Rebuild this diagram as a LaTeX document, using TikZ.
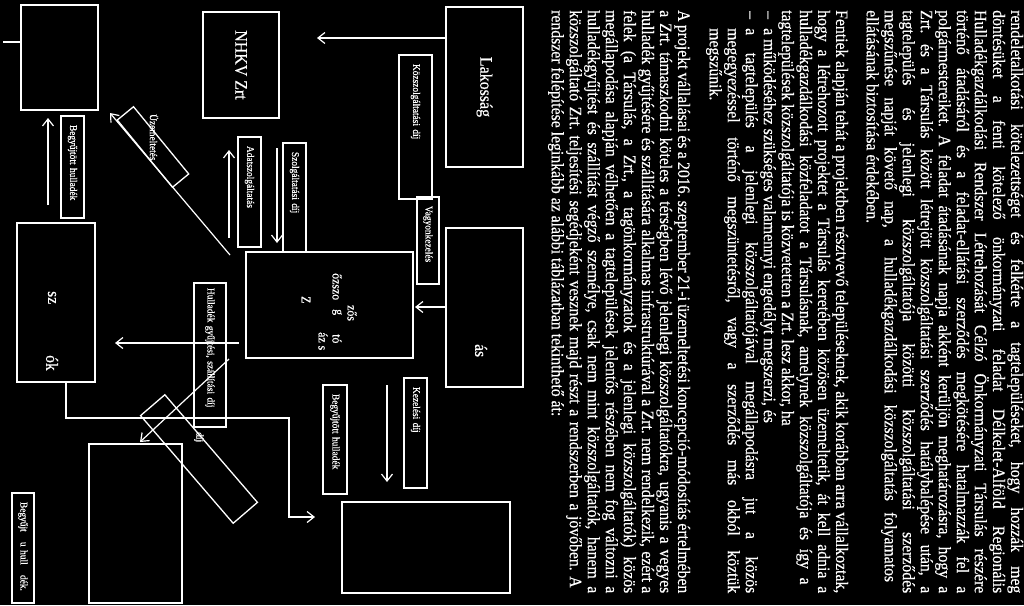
\documentclass[tikz,border=0pt]{standalone}
\usepackage{fontspec}
\setmainfont{Liberation Serif}[FakeStretch=0.91, FakeBold=0.4]
\usepackage{graphicx}
\usepackage{tikz}
\usetikzlibrary{arrows.meta}
\frenchspacing

\begin{document}
\begin{tikzpicture}[
		x=1pt, y=-1pt, white,
		bigbox/.style={draw, line width=2.2pt, inner sep=0pt, font=\fontsize{17.5}{20}\selectfont},
		lblbox/.style={draw, line width=1.6pt, rotate=-90, inner xsep=9pt, inner ysep=0pt, align=left, font=\fontsize{10.3}{12}\selectfont},
		tiltbox/.style={draw, line width=1.3pt, inner sep=0pt},
		arr/.style={line width=1.2pt, -{Straight Barb[length=7pt,width=11pt]}},
		txtline/.style={anchor=west, rotate=-90, inner sep=0pt, font=\fontsize{17.3}{19.5}\selectfont},
		frag/.style={anchor=west, rotate=-90, inner sep=0pt, font=\fontsize{13}{15}\selectfont}
	]
	\fill[black] (0,0) rectangle (1024,605);
	\useasboundingbox (0,0) rectangle (1024,605);

	\node[bigbox, minimum width=77pt, minimum height=105pt] (boxa) at (59.5,57.5) {};
	\node[bigbox, minimum width=76pt, minimum height=106pt] (nhkv) at (241,65) {\rotatebox{-90}{NHKV Zrt}};
	\node[bigbox, minimum width=77pt, minimum height=160pt] (lak) at (484.5,87) {\rotatebox{-90}{Lakosság}};
	\node[bigbox, minimum width=77pt, minimum height=159pt] (tars) at (484.5,307.5) {};
	\node[bigbox, minimum width=167pt, minimum height=106pt] (zrt) at (329.5,305) {};
	\node[bigbox, minimum width=78pt, minimum height=159pt] (boxd) at (56,302.5) {};
	\node[bigbox, minimum width=93pt, minimum height=159pt] (boxe) at (135.5,523.5) {};
	\node[bigbox, minimum width=168pt, minimum height=91pt] (boxf) at (426,547.5) {};

	\node[lblbox, minimum height=33pt, text width=126pt] (kozdij) at (415.5,127) {Közszolgáltatási díj};
	\node[lblbox, minimum height=22pt, text width=69pt] (vagyon) at (428,240.5) {Vagyonkezelés};
	\node[lblbox, minimum height=23pt, text width=92pt] (adat) at (249.5,192) {Adatszolgáltatás};
	\node[lblbox, minimum height=23pt, text width=91pt] (szoldij) at (294.5,197.5) {Szolgáltatási díj};
	\node[lblbox, minimum height=23pt, text width=84pt] (begyA) at (72.5,167) {Begyűjtött hulladék};
	\node[lblbox, minimum height=32pt, inner xsep=5pt, text width=134pt] (gyujdij) at (210,355) {Hulladék gyűjtési, szállítási díj};
	\node[lblbox, minimum height=24pt, text width=91pt] (begyB) at (335,439.5) {Begyűjtött hulladék};
	\node[lblbox, minimum height=23pt, text width=92pt] (kezdij) at (415.5,433) {Kezelési díj};
	\node[lblbox, minimum height=22pt, text width=92pt] (begyC) at (23,548) {Begyűjt\quad u hull\quad dék.};

	\node[tiltbox, rotate=-50.6, minimum width=87pt, minimum height=21pt] (uzbox) at (153,147) {};
	\node[tiltbox, rotate=-49.3, minimum width=142pt, minimum height=32pt] (dijbox) at (199,459) {};
	\node[frag, font=\fontsize{10.3}{12}\selectfont] (uzem) at (154,114) {Üzemeltetés};
	\node[frag, font=\fontsize{10.3}{12}\selectfont] (dij) at (199,432) {díj};

	\node[frag, font=\fontsize{17}{19}\selectfont] (tarsfr) at (481,344) {ás};
	\node[frag] (zfr1) at (352,305) {zős};
	\node[frag] (zfr2) at (337,273) {őzszo};
	\node[frag] (zfr3) at (337,309) {g};
	\node[frag] (zfr4) at (337,334) {tó};
	\node[frag] (zfr5) at (323,332) {áz s};
	\node[frag] (zfr6) at (306,296) {Z};
	\node[frag, font=\fontsize{17}{19}\selectfont] (dfr1) at (52,291) {sz};
	\node[frag, font=\fontsize{17}{19}\selectfont] (dfr2) at (52,355) {ók};

	\foreach \n/\x/\y in {l1/317/38, a1/229/238, a2/229/150, b1/277/148, b2/277/243, c1/48/205, c2/48/118, u1/230/255, u2/110/113, t1/415/307, h1/239/343, h2/115/343, g1/229/359, g2/140/442, k1/387/385, k2/387/482, d1/289/418, d2/315/517, e0/3/42}
		\coordinate (\n) at (\x,\y);

	\draw[arr] (lak.west |- l1) -- (l1);
	\foreach \a/\b in {a1/a2, b1/b2, c1/c2, u1/u2, h1/h2, g1/g2, k1/k2}
		\draw[arr] (\a) -- (\b);
	\draw[arr] (tars.west |- t1) -- (t1);
	\draw[arr] ([xshift=10pt]boxd.south) |- (d1) |- (d2);
	\draw[line width=1.2pt] (e0) -- (e0 -| boxa.west);

	\foreach \ln [count=\i from 0] in {
		{rendeletalkotási kötelezettséget és felkérte a tagtelepüléseket, hogy hozzák meg},
		{döntésüket a fenti kötelező önkormányzati feladat Délkelet-Alföld Regionális},
		{Hulladékgazdálkodási Rendszer Létrehozását Célzó Önkormányzati Társulás részére},
		{történő átadásáról és a feladat-ellátási szerződés megkötésére hatalmazzák fel a},
		{polgármestereiket. A feladat átadásának napja akként kerüljön meghatározásra, hogy a},
		{Zrt. és a Társulás között létrejött közszolgáltatási szerződés hatálybalépése után, a},
		{tagtelepülés és jelenlegi közszolgáltatója közötti közszolgáltatási szerződés},
		{megszűnése napját követő nap, a hulladékgazdálkodási közszolgáltatás folyamatos}
	}
		\node[txtline] (pa-\i) at (1015-18.05*\i,10) {\makebox[583pt][s]{\strut\ln}};
	\node[txtline] (pa-8) at (1015-18.05*8,10) {\strut ellátásának biztosítása érdekében.};

	\foreach \ln [count=\i from 0] in {
		{Fentiek alapján tehát a projektben résztvevő településeknek, akik korábban arra vállalkoztak,},
		{hogy a létrehozott projektet a Társulás keretében közösen üzemeltetik, át kell adnia a},
		{hulladékgazdálkodási közfeladatot a Társulásnak, amelynek közszolgáltatója és így a}
	}
		\node[txtline] (pb-\i) at (840-18.05*\i,10) {\makebox[583pt][s]{\strut\ln}};
	\node[txtline] (pb-3) at (840-18.05*3,10) {\strut tagtelepülések közszolgáltatója is közvetetten a Zrt. lesz akkor, ha};
	\foreach \i in {4,5}
		\node[txtline] (dash-\i) at (840-18.05*\i,11) {\strut --};
	\node[txtline] (pb-4) at (840-18.05*4,28) {\strut a működéséhez szükséges valamennyi engedélyt megszerzi, és};
	\node[txtline] (pb-5) at (840-18.05*5,28) {\makebox[565pt][s]{\strut a tagtelepülés a jelenlegi közszolgáltatójával megállapodásra jut a közös}};
	\node[txtline] (pb-6) at (840-18.05*6,28) {\makebox[565pt][s]{\strut megegyezéssel történő megszüntetésről, vagy a szerződés más okból köztük}};
	\node[txtline] (pb-7) at (840-18.05*7,28) {\strut megszűnik.};

	\foreach \ln [count=\i from 0] in {
		{A projekt vállalásai és a 2016. szeptember 21-i üzemeltetési koncepció-módosítás értelmében},
		{a Zrt. támaszkodni köteles a térségben lévő jelenlegi közszolgáltatókra, ugyanis a vegyes},
		{hulladék gyűjtésére és szállítására alkalmas infrastruktúrával a Zrt. nem rendelkezik, ezért a},
		{felek (a Társulás, a Zrt., a tagönkormányzatok és a jelenlegi közszolgáltatók) közös},
		{megállapodása alapján vélhetően a tagtelepülések jelentős részében nem fog változni a},
		{hulladékgyűjtést és szállítást végző személye, csak nem mint közszolgáltatók, hanem a},
		{közszolgáltató Zrt. teljesítési segédjeként vesznek majd részt a rendszerben a jövőben. A}
	}
		\node[txtline] (pc-\i) at (682-18.05*\i,10) {\makebox[583pt][s]{\strut\ln}};
	\node[txtline] (pc-7) at (682-18.05*7,10) {\strut rendszer felépítése leginkább az alábbi táblázatban tekinthető át:};
\end{tikzpicture}
\end{document}
